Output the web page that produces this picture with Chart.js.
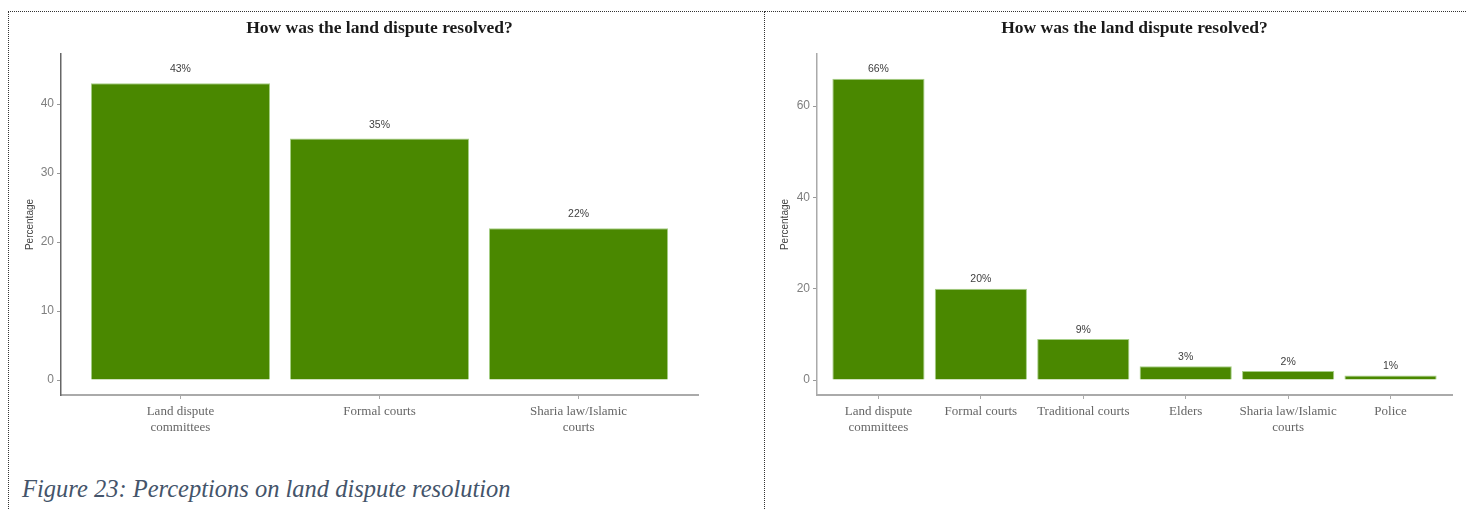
<!DOCTYPE html>
<html>
<head>
<meta charset="utf-8">
<script src="https://cdn.jsdelivr.net/npm/chart.js@4.4.1/dist/chart.umd.min.js"></script>
<style>
  html, body { margin: 0; padding: 0; background: #fff; overflow: hidden; width: 1466px; height: 510px; }
  .frame-left { position: absolute; left: 8px; top: 11px; width: 755px; height: 520px; border: 1px dotted #333; }
  .frame-right { position: absolute; left: 764px; top: 11px; width: 720px; height: 520px; border-top: 1px dotted #333; }
  canvas { position: absolute; }
  #leftChart { left: 9px; top: 12px; }
  #rightChart { left: 767px; top: 12px; }
  .caption { position: absolute; left: 22px; top: 475px; font: italic 24.5px 'Liberation Serif', serif; color: #44546a; white-space: nowrap; }
</style>
</head>
<body>
<div class="frame-left"></div>
<div class="frame-right"></div>
<canvas id="leftChart" width="699" height="430"></canvas>
<canvas id="rightChart" width="695" height="430"></canvas>
<div class="caption">Figure 23: Perceptions on land dispute resolution</div>

<script>
// ---- data ----
const chartTitle = 'How was the land dispute resolved?';
const yAxisTitle = 'Percentage';

const leftCategories = [['Land dispute', 'committees'], 'Formal courts', ['Sharia law/Islamic', 'courts']];
const leftValues = [43, 35, 22];
const leftTicks = [0, 10, 20, 30, 40];

const rightCategories = [['Land dispute', 'committees'], 'Formal courts', 'Traditional courts', 'Elders',
  ['Sharia law/Islamic', 'courts'], 'Police'];
const rightValues = [66, 20, 9, 3, 2, 1];
const rightTicks = [0, 20, 40, 60];

// percentage labels above each bar
const valueLabels = {
  id: 'valueLabels',
  afterDatasetsDraw(chart, args, opts) {
    const { ctx, scales: { x, y } } = chart;
    ctx.save();
    ctx.font = opts.font;
    ctx.fillStyle = opts.color;
    ctx.textAlign = 'center';
    ctx.textBaseline = 'middle';
    chart.data.datasets[0].data.forEach(p => {
      ctx.fillText(p.y + '%', x.getPixelForValue(p.x), y.getPixelForValue(p.y + opts.nudge));
    });
    ctx.restore();
  }
};

function makeChart(id, categories, values, ticks, yRange, yWidth, yTitlePad, yAxisColor) {
  return new Chart(document.getElementById(id), {
    type: 'bar',
    data: {
      datasets: [{
        data: values.map((v, i) => ({ x: i, y: v })),
        backgroundColor: '#4a8800',
        borderColor: '#a6cf86',
        borderWidth: 1,
        barPercentage: 0.9,
        categoryPercentage: 1
      }]
    },
    options: {
      responsive: false,
      animation: false,
      layout: { padding: { left: 0, right: 10, top: 0, bottom: 0 } },
      plugins: {
        legend: { display: false },
        tooltip: { enabled: false },
        title: {
          display: true, text: chartTitle, fullSize: false, color: '#1a1a1a',
          font: { family: "'Liberation Serif', serif", size: 17.5, weight: 'bold', lineHeight: 1.2 },
          padding: { top: 6, bottom: 15 }
        },
        valueLabels: { font: "10.5px 'Liberation Sans', sans-serif", color: '#404040', nudge: 2 }
      },
      scales: {
        x: {
          type: 'linear',
          offset: false,
          min: -0.6,
          max: categories.length - 0.4,
          afterBuildTicks: s => { s.ticks = categories.map((c, i) => ({ value: i })); },
          afterFit: s => { s.height = 47; s.paddingLeft = 0; s.paddingRight = 0; },
          ticks: {
            callback: v => categories[v],
            autoSkip: false, maxRotation: 0, padding: 5, color: '#666',
            font: { family: "'Liberation Serif', serif", size: 13, lineHeight: 1.2 }
          },
          grid: { offset: false, drawOnChartArea: false, drawTicks: true, tickLength: 4, color: '#aaa' },
          border: { color: '#aaa', width: 2 }
        },
        y: {
          min: yRange[0],
          max: yRange[1],
          afterBuildTicks: s => { s.ticks = ticks.map(v => ({ value: v })); },
          afterFit: s => { s.width = yWidth; s.paddingTop = 0; s.paddingBottom = 0; },
          ticks: { padding: 3, color: '#7f7f7f', font: { family: "'Liberation Sans', sans-serif", size: 12 } },
          grid: { drawOnChartArea: false, drawTicks: true, tickLength: 4, color: '#999' },
          border: { color: yAxisColor, width: 1.5 },
          title: {
            display: true, text: yAxisTitle, color: '#444',
            font: { family: "'Liberation Sans', sans-serif", size: 10 },
            padding: { top: yTitlePad, bottom: 0 }
          }
        }
      }
    },
    plugins: [valueLabels]
  });
}

makeChart('leftChart', leftCategories, leftValues, leftTicks, [-2.17, 47.25], 52, 15, '#666');
makeChart('rightChart', rightCategories, rightValues, rightTicks, [-3.28, 71.4], 50, 12, '#aaa');
</script>
</body>
</html>
